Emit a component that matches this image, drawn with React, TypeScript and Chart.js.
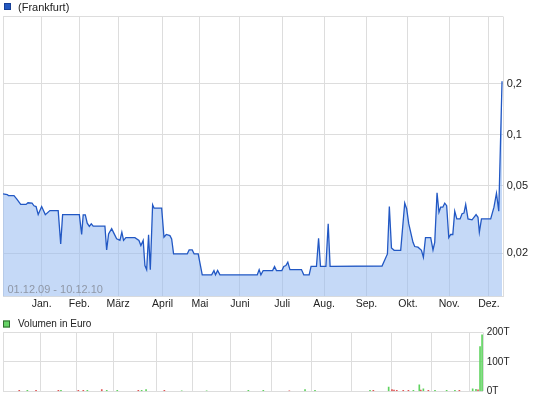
import React, { useEffect, useRef } from "react";
import { Chart, registerables } from "chart.js";
Chart.register(...registerables);

// x positions are trading-day indices (01.12.09 = 0 ... 10.12.10 = 260)
const monthTicks = [0, 20.1, 39.7, 59.9, 83.0, 102.4, 123.2, 145.2, 167.0, 189.0, 210.6, 232.0, 252.7, 260];
const monthLabels = ["", "Jan.", "Feb.", "März", "April", "Mai", "Juni", "Juli", "Aug.", "Sep.", "Okt.", "Nov.", "Dez.", ""];
const priceTicks = [0.02, 0.05, 0.1, 0.2, 0.5];
const volumeTicks = [0, 100, 200];
const dateRange = "01.12.09 - 10.12.10";

const priceDays = [
  0, 2.2, 2.8, 5.7, 7.1, 9.2, 12.0, 13.0, 15.1, 16.1, 17.2, 18.3, 20.1, 22.0, 24.4, 28.7, 30.0, 31.0, 39.7, 40.9,
  41.7, 42.8, 43.8, 44.9, 45.9, 46.9, 53.0, 53.9, 54.9, 56.5, 57.7, 59.1, 60.8, 61.8, 62.7, 63.9, 68.6, 70.7, 71.7, 72.9,
  73.8, 74.7, 75.7, 76.6, 77.8, 78.6, 82.5, 83.7, 84.9, 86.8, 87.7, 88.7, 95.8, 96.8, 98.4, 99.4, 101.5, 103.6, 108.5, 109.7,
  110.5, 111.6, 112.8, 132.2, 133.2, 134.1, 135.3, 140.2, 141.2, 142.2, 145.0, 146.0, 147.1, 148.1, 149.2, 155.2, 156.4, 159.2, 160.2, 163.0,
  164.1, 165.1, 167.9, 169.1, 170.1, 197.1, 199.9, 200.9, 202.0, 203.4, 206.8, 208.9, 209.9, 211.0, 213.2, 214.1, 215.8, 217.6, 218.6, 219.7,
  222.4, 223.6, 224.5, 225.7, 226.7, 227.6, 228.7, 229.7, 230.7, 231.8, 232.8, 233.9, 234.9, 236.0, 237.7, 238.7, 239.7, 240.6, 241.8, 243.9,
  246.0, 247.0, 247.7, 248.8, 253.6, 255.3, 256.6, 257.8, 259.5,
];
const priceValues = [
  0.0448, 0.0444, 0.0438, 0.0438, 0.0419, 0.0388, 0.0388, 0.0397, 0.0395, 0.0381, 0.0377, 0.0338, 0.0377, 0.0338, 0.0357, 0.0357, 0.0227, 0.0338, 0.0338, 0.0258,
  0.0337, 0.0337, 0.0301, 0.0288, 0.0298, 0.0289, 0.0289, 0.0209, 0.0260, 0.0279, 0.0262, 0.0243, 0.0238, 0.0266, 0.0238, 0.0247, 0.0247, 0.0238, 0.0222, 0.0238,
  0.0169, 0.0160, 0.0257, 0.0160, 0.0386, 0.0369, 0.0369, 0.0249, 0.0258, 0.0254, 0.0243, 0.0198, 0.0198, 0.0209, 0.0209, 0.0198, 0.0198, 0.0149, 0.0149, 0.0158,
  0.0149, 0.0158, 0.0149, 0.0149, 0.0160, 0.0149, 0.0158, 0.0158, 0.0167, 0.0158, 0.0158, 0.0167, 0.0169, 0.0177, 0.0160, 0.0160, 0.0149, 0.0149, 0.0167, 0.0167,
  0.0245, 0.0167, 0.0167, 0.0298, 0.0167, 0.0168, 0.0198, 0.0377, 0.0215, 0.0208, 0.0208, 0.0395, 0.0366, 0.0298, 0.0232, 0.0219, 0.0217, 0.0208, 0.0189, 0.0247,
  0.0247, 0.0209, 0.0232, 0.0455, 0.0349, 0.0374, 0.0374, 0.0395, 0.0382, 0.0247, 0.0258, 0.0258, 0.0354, 0.0319, 0.0319, 0.0342, 0.0345, 0.0388, 0.0319, 0.0315,
  0.0338, 0.0326, 0.0266, 0.0319, 0.0319, 0.0374, 0.0452, 0.0354, 0.207,
];

// volume in thousand euro
const volDays = [
  8.8, 13.2, 17.9, 30.0, 31.4, 40.8, 43.5, 45.7, 53.5, 56.2, 61.9, 73.3, 75.1, 77.5, 87.4, 96.8, 110.3, 132.9, 141.0, 155.1,
  163.6, 169.0, 198.8, 200.6, 208.9, 210.7, 211.8, 213.3, 216.8, 219.6, 222.3, 225.5, 226.3, 227.7, 230.4, 234.0, 240.3, 244.8, 247.2, 254.4,
  256.2, 257.3, 258.4, 259.5,
];
const volValues = [
  3, 3, 3, 3, 3, 3, 3, 3, 6, 3, 3, 3, 3, 6, 3, 2, 2, 3, 3, 2,
  6, 3, 3, 3, 14, 6, 4, 3, 3, 3, 3, 22, 4, 8, 3, 3, 3, 3, 3, 8,
  7, 5, 152, 192,
];
const volUp = [
  0, 1, 0, 0, 1, 0, 0, 1, 0, 1, 1, 0, 1, 1, 0, 1, 1, 1, 1, 0,
  1, 1, 1, 0, 1, 0, 0, 0, 0, 0, 1, 1, 0, 1, 0, 1, 1, 1, 0, 1,
  1, 0, 1, 1,
];

const FONT = "'Liberation Sans', Arial, sans-serif";
const GRID = "#dddddd";

function legendPlugin(id: string, label: string, fill: string, stroke: string, boxX: number, boxY: number, textX: number, textY: number, size: number, extra?: (ctx: CanvasRenderingContext2D, chart: any) => void) {
  return {
    id,
    afterDatasetsDraw(chart: any) {
      const ctx = chart.ctx as CanvasRenderingContext2D;
      ctx.save();
      ctx.fillStyle = fill;
      ctx.fillRect(boxX, boxY, 7, 7);
      ctx.strokeStyle = stroke;
      ctx.lineWidth = 1;
      ctx.strokeRect(boxX + 0.5, boxY + 0.5, 6, 6);
      ctx.fillStyle = "#222222";
      ctx.font = `${size}px ${FONT}`;
      ctx.textBaseline = "middle";
      ctx.textAlign = "left";
      ctx.fillText(label, textX, textY);
      if (extra) extra(ctx, chart);
      ctx.restore();
    },
  };
}

export default function App() {
  const priceRef = useRef<HTMLCanvasElement>(null);
  const volRef = useRef<HTMLCanvasElement>(null);

  useEffect(() => {
    const priceData = priceDays.map((d, i) => ({ x: d, y: priceValues[i] }));
    const volData = volDays.map((d, i) => ({ x: d, y: volValues[i] }));
    const volColors = volUp.map((u) => (u ? "#5fd35f" : "#e05555"));

    const priceChart = new Chart(priceRef.current!, {
      type: "line",
      data: {
        datasets: [
          {
            label: "(Frankfurt)",
            data: priceData,
            borderColor: "#2258c4",
            borderWidth: 1.3,
            backgroundColor: "rgba(150,186,240,0.55)",
            fill: "start",
            pointRadius: 0,
            tension: 0,
          },
        ],
      },
      options: {
        animation: false,
        responsive: false,
        layout: { padding: { left: 3, top: 16.5, right: 0, bottom: 0 } },
        plugins: { legend: { display: false }, tooltip: { enabled: false } },
        scales: {
          x: {
            type: "linear",
            min: 0,
            max: 260,
            afterBuildTicks: (s: any) => {
              s.ticks = monthTicks.map((v) => ({ value: v }));
            },
            afterFit: (s: any) => {
              s.height = 21.5;
            },
            ticks: {
              autoSkip: false,
              maxRotation: 0,
              padding: 1.5,
              color: "#222222",
              font: { family: FONT, size: 10.5 },
              callback: (v: any) => {
                const i = monthTicks.indexOf(Number(v));
                return i >= 0 ? monthLabels[i] : "";
              },
            },
            grid: { color: GRID, drawTicks: false },
            border: { display: true, color: GRID },
          },
          y: {
            type: "logarithmic",
            position: "right",
            min: 0.0111,
            max: 0.5,
            afterBuildTicks: (s: any) => {
              s.ticks = priceTicks.map((v) => ({ value: v }));
            },
            afterFit: (s: any) => {
              s.width = 42;
            },
            ticks: {
              padding: 3.7,
              color: "#222222",
              font: { family: FONT, size: 11 },
              callback: (v: any) => (Number(v) >= 0.5 ? "" : String(v).replace(".", ",")),
            },
            grid: { color: GRID, drawTicks: false },
            border: { display: false },
          },
        },
      },
      plugins: [
        legendPlugin("priceLegend", "(Frankfurt)", "#2358c0", "#173f96", 4, 3, 18, 7.5, 11, (ctx, chart) => {
          ctx.fillStyle = "rgba(125,130,140,0.75)";
          ctx.font = `11px ${FONT}`;
          ctx.fillText(dateRange, 7.5, chart.chartArea.bottom - 6.5);
        }),
      ],
    } as any);

    const volChart = new Chart(volRef.current!, {
      type: "bar",
      data: {
        datasets: [
          {
            label: "Volumen in Euro",
            data: volData,
            backgroundColor: volColors,
            borderWidth: 0,
            barThickness: 1,
            grouped: false,
          },
        ],
      },
      options: {
        animation: false,
        responsive: false,
        layout: { padding: { left: 3, top: 14.5, right: 0, bottom: 9.5 } },
        plugins: { legend: { display: false }, tooltip: { enabled: false } },
        scales: {
          x: {
            type: "linear",
            min: 0,
            max: 260,
            offset: false,
            afterBuildTicks: (s: any) => {
              s.ticks = monthTicks.map((v) => ({ value: v }));
            },
            afterFit: (s: any) => {
              s.height = 0;
            },
            ticks: { display: false },
            grid: { color: GRID, drawTicks: false, offset: false },
            border: { display: false },
          },
          y: {
            type: "linear",
            position: "right",
            min: 0,
            max: 200,
            afterBuildTicks: (s: any) => {
              s.ticks = volumeTicks.map((v) => ({ value: v }));
            },
            afterFit: (s: any) => {
              s.width = 62;
            },
            ticks: {
              padding: 3.7,
              color: "#222222",
              font: { family: FONT, size: 10 },
              callback: (v: any) => `${v}T`,
            },
            grid: { color: GRID, drawTicks: false },
            border: { display: false },
          },
        },
      },
      plugins: [legendPlugin("volLegend", "Volumen in Euro", "#66d466", "#2f6a2f", 3, 2.5, 18, 5.8, 10)],
    } as any);

    return () => {
      priceChart.destroy();
      volChart.destroy();
    };
  }, []);

  return (
    <div style={{ position: "absolute", left: 0, top: 0, width: 545, height: 401, background: "#ffffff" }}>
      <canvas ref={priceRef} width={545} height={318} style={{ position: "absolute", left: 0, top: 0, width: 545, height: 318 }} />
      <canvas ref={volRef} width={545} height={83} style={{ position: "absolute", left: 0, top: 318, width: 545, height: 83 }} />
    </div>
  );
}
